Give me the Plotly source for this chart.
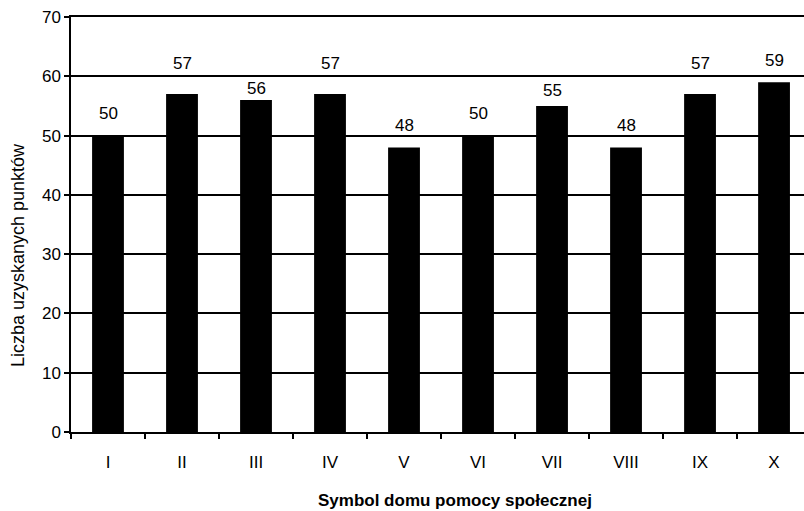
import plotly.graph_objects as go

categories = ["I", "II", "III", "IV", "V", "VI", "VII", "VIII", "IX", "X"]
values = [50, 57, 56, 57, 48, 50, 55, 48, 57, 59]
y_ticks = [0, 10, 20, 30, 40, 50, 60, 70]

# label placement above each bar (pixels), as in the original layout
label_shift_px = [22, 31, 12, 31, 22, 22, 15, 22, 31, 22]

FONT = "Liberation Sans, Arial, sans-serif"

fig = go.Figure()
fig.add_trace(go.Bar(
    x=categories, y=values, width=0.43,
    marker=dict(color="black", line=dict(width=0)),
    hoverinfo="x+y",
))

label_annotations = [
    dict(x=c, y=v, xref="x", yref="y", text=str(v), showarrow=False,
         xanchor="center", yanchor="middle", yshift=s,
         font=dict(family=FONT, size=17, color="black"))
    for c, v, s in zip(categories, values, label_shift_px)
]

fig.update_layout(
    width=804, height=511,
    margin=dict(l=71, r=0, t=17, b=79),
    paper_bgcolor="white", plot_bgcolor="white",
    showlegend=False,
    font=dict(family=FONT, size=17, color="black"),
    xaxis=dict(
        type="category", range=[-0.5, 9.405],
        showgrid=False, showline=True, linecolor="black", linewidth=1.5, mirror=True,
        ticks="outside", tickson="boundaries", ticklen=5, tickwidth=1.5, tickcolor="black",
        tickfont=dict(family=FONT, size=17, color="black"),
        ticklabelstandoff=14,
        zeroline=False,
    ),
    yaxis=dict(
        range=[0, 70], tickvals=y_ticks,
        showgrid=True, gridcolor="black", gridwidth=1.5,
        showline=True, linecolor="black", linewidth=1.5,
        ticks="outside", ticklen=5, tickwidth=1.5, tickcolor="black",
        tickfont=dict(family=FONT, size=17, color="black"),
        zeroline=False,
    ),
    annotations=label_annotations + [
        dict(text="<b>Symbol domu pomocy społecznej</b>", xref="paper", yref="paper",
             x=(455 - 71) / (804 - 71), y=-(500 - 432) / (432 - 17),
             showarrow=False, xanchor="center", yanchor="middle",
             font=dict(family=FONT, size=17, color="black")),
        dict(text="Liczba uzyskanych punktów", xref="paper", yref="paper",
             x=-(71 - 18) / (804 - 71), y=(432 - 255) / (432 - 17),
             showarrow=False, xanchor="center", yanchor="middle", textangle=-90,
             font=dict(family=FONT, size=18, color="black")),
    ],
)

fig.write_html("out.html", config={"displayModeBar": False},
               post_script="document.body.style.margin='0';")
